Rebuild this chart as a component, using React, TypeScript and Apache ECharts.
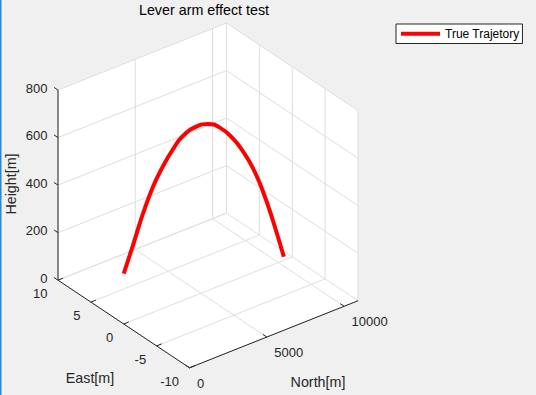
import React, { useEffect, useRef } from "react";
import * as echarts from "echarts";

const TITLE = "Lever arm effect test";
const SERIES_NAME = "True Trajetory";
const NORTH_LABEL = "North[m]";
const EAST_LABEL = "East[m]";
const HEIGHT_LABEL = "Height[m]";

const NORTH_RANGE = [0, 10900];
const EAST_RANGE = [-10, 10];
const HEIGHT_RANGE = [0, 800];
const NORTH_TICKS = [0, 5000, 10000];
const EAST_TICKS = [-10, -5, 0, 5, 10];
const HEIGHT_TICKS = [0, 200, 400, 600, 800];

const north = [0, 585, 1232, 1879, 2526, 3172, 3820, 4687, 5437, 6194, 7055, 7701, 8348, 8996, 9642, 10355];
const east = [0, 0, 0, 0, 0, 0, 0, 0, 0, 0, 0, 0, 0, 0, 0, 0];
const height = [212, 314, 430, 527, 597, 652, 692, 709, 701, 667, 598, 528, 441, 327, 187, 15];

// view (orthographic, MATLAB-like default 3D view)
const AZ = 37.7;
const EL = 31;
const ASPECT = [1, 1.01, 1.042];

const FONT = "'Liberation Sans', Arial, Helvetica, sans-serif";
const GRID_COLOR = "#dedede";
const AXIS_COLOR = "#262626";
const TEXT_COLOR = "#262626";

function project(n: number, e: number, h: number): [number, number] {
  const nx = ((n - NORTH_RANGE[0]) / (NORTH_RANGE[1] - NORTH_RANGE[0])) * ASPECT[0];
  const ny = ((e - EAST_RANGE[0]) / (EAST_RANGE[1] - EAST_RANGE[0])) * ASPECT[1];
  const nz = ((h - HEIGHT_RANGE[0]) / (HEIGHT_RANGE[1] - HEIGHT_RANGE[0])) * ASPECT[2];
  const a = (AZ * Math.PI) / 180;
  const b = (EL * Math.PI) / 180;
  return [
    nx * Math.cos(a) - ny * Math.sin(a),
    (nx * Math.sin(a) + ny * Math.cos(a)) * Math.sin(b) + nz * Math.cos(b),
  ];
}

const corners: [number, number][] = [];
for (const n of NORTH_RANGE) for (const e of EAST_RANGE) for (const h of HEIGHT_RANGE) corners.push(project(n, e, h));
const U_MIN = Math.min(...corners.map((c) => c[0]));
const U_MAX = Math.max(...corners.map((c) => c[0]));
const V_MIN = Math.min(...corners.map((c) => c[1]));
const V_MAX = Math.max(...corners.map((c) => c[1]));

function renderBox(_params: any, api: any) {
  const P = (n: number, e: number, h: number) => api.coord(project(n, e, h));
  const [N0, N1] = NORTH_RANGE;
  const [E0, E1] = EAST_RANGE;
  const [H0, H1] = HEIGHT_RANGE;
  const children: any[] = [];
  children.push({
    type: "polygon",
    shape: { points: [P(N0, E1, H1), P(N1, E1, H1), P(N1, E0, H1), P(N1, E0, H0), P(N0, E0, H0), P(N0, E1, H0)] },
    style: { fill: "#ffffff" },
    silent: true,
  });
  const seg = (p: number[], q: number[], stroke: string) =>
    children.push({
      type: "line",
      shape: { x1: p[0], y1: p[1], x2: q[0], y2: q[1] },
      style: { stroke, lineWidth: 1 },
      silent: true,
    });
  const text = (s: string, x: number, y: number, align: string, vAlign: string) =>
    children.push({
      type: "text",
      x,
      y,
      style: {
        text: s,
        fill: TEXT_COLOR,
        fontSize: 13,
        fontFamily: FONT,
        align,
        verticalAlign: vAlign,
        textAlign: align,
        textVerticalAlign: vAlign,
      },
      silent: true,
    });
  // floor grid
  EAST_TICKS.forEach((e) => seg(P(N0, e, H0), P(N1, e, H0), GRID_COLOR));
  NORTH_TICKS.forEach((n) => seg(P(n, E0, H0), P(n, E1, H0), GRID_COLOR));
  // back-left wall (East = max)
  NORTH_TICKS.forEach((n) => seg(P(n, E1, H0), P(n, E1, H1), GRID_COLOR));
  HEIGHT_TICKS.forEach((h) => seg(P(N0, E1, h), P(N1, E1, h), GRID_COLOR));
  // back-right wall (North = max)
  EAST_TICKS.forEach((e) => seg(P(N1, e, H0), P(N1, e, H1), GRID_COLOR));
  HEIGHT_TICKS.forEach((h) => seg(P(N1, E0, h), P(N1, E1, h), GRID_COLOR));
  // axis lines
  seg(P(N0, E1, H0), P(N0, E1, H1), AXIS_COLOR);
  seg(P(N0, E0, H0), P(N0, E1, H0), AXIS_COLOR);
  seg(P(N0, E0, H0), P(N1, E0, H0), AXIS_COLOR);
  const tf = 0.03;
  const dN = (N1 - N0) * tf;
  const dE = (E1 - E0) * tf;
  HEIGHT_TICKS.forEach((h) => {
    const p = P(N0, E1, h);
    seg(p, P(N0, E1 + dE, h), AXIS_COLOR);
    text(String(h), p[0] - 10.5, p[1] - 2, "right", "middle");
  });
  EAST_TICKS.forEach((e) => {
    const p = P(N0, e, H0);
    seg(p, P(N0 + dN, e, H0), AXIS_COLOR);
    text(String(e), p[0] - 10.5, p[1] + 13.5, "right", "middle");
  });
  NORTH_TICKS.forEach((n) => {
    const p = P(n, E0, H0);
    seg(p, P(n, E0 + dE, H0), AXIS_COLOR);
    text(String(n), p[0] + 7.5, p[1] + 15.5, "left", "middle");
  });
  return { type: "group", children };
}

export default function App() {
  const ref = useRef<HTMLDivElement>(null);
  useEffect(() => {
    if (!ref.current) return;
    const chart = echarts.init(ref.current, undefined, { renderer: "svg" });
    const traj = north.map((n, i) => project(n, east[i], height[i]));
    chart.setOption({
      animation: false,
      backgroundColor: "#f0f0f0",
      title: {
        text: TITLE,
        left: 204,
        top: 3,
        textAlign: "center",
        padding: 0,
        textStyle: { fontSize: 14.3, fontWeight: "normal", color: "#000", fontFamily: FONT },
      },
      legend: {
        data: [{ name: SERIES_NAME, icon: "rect" }],
        left: 396,
        top: 24,
        padding: [3, 3, 3, 5],
        itemWidth: 39,
        itemHeight: 4,
        backgroundColor: "#ffffff",
        borderColor: "#262626",
        borderWidth: 1,
        borderRadius: 0,
        textStyle: { fontSize: 12, color: "#000", fontFamily: FONT, lineHeight: 13.5 },
      },
      grid: { left: 58, top: 23, width: 300, height: 344.8 },
      xAxis: { type: "value", min: U_MIN, max: U_MAX, show: false },
      yAxis: { type: "value", min: V_MIN, max: V_MAX, show: false },
      graphic: [
        { type: "rect", shape: { x: 0, y: 0, width: 1.5, height: 395 }, style: { fill: "#2786d8" }, silent: true },
        {
          type: "text",
          x: 11,
          y: 184,
          rotation: Math.PI / 2,
          style: { text: HEIGHT_LABEL, fill: TEXT_COLOR, fontSize: 14.3, fontFamily: FONT, align: "center", verticalAlign: "middle", textAlign: "center", textVerticalAlign: "middle" },
          silent: true,
        },
        {
          type: "text",
          x: 90,
          y: 377.5,
          style: { text: EAST_LABEL, fill: TEXT_COLOR, fontSize: 14.3, fontFamily: FONT, align: "center", verticalAlign: "middle", textAlign: "center", textVerticalAlign: "middle" },
          silent: true,
        },
        {
          type: "text",
          x: 318,
          y: 382.3,
          style: { text: NORTH_LABEL, fill: TEXT_COLOR, fontSize: 14.3, fontFamily: FONT, align: "center", verticalAlign: "middle", textAlign: "center", textVerticalAlign: "middle" },
          silent: true,
        },
      ],
      series: [
        {
          type: "custom",
          name: "box",
          coordinateSystem: "cartesian2d",
          renderItem: renderBox,
          data: [[0, 0]],
          silent: true,
          z: 1,
        },
        {
          type: "line",
          name: SERIES_NAME,
          data: traj,
          smooth: 0.5,
          symbol: "none",
          showSymbol: false,
          clip: false,
          lineStyle: { color: "#ff0000", width: 4 },
          itemStyle: { color: "#ff0000" },
          z: 5,
        },
      ],
    });
    return () => chart.dispose();
  }, []);
  return <div ref={ref} style={{ position: "fixed", left: 0, top: 0, width: 536, height: 395 }} />;
}
